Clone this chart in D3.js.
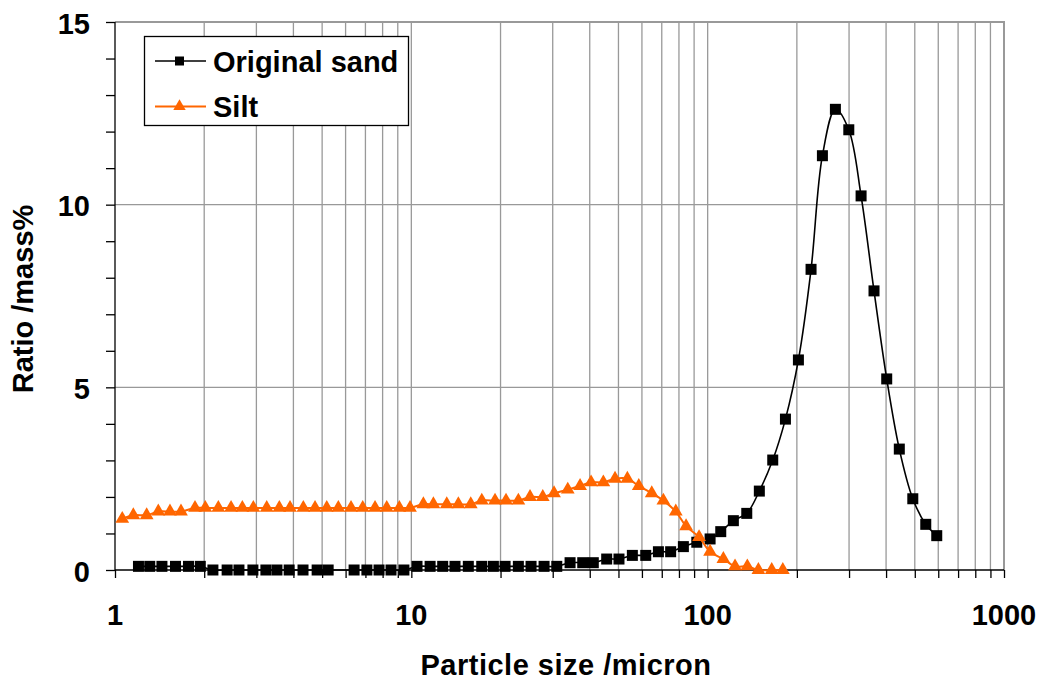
<!DOCTYPE html>
<html>
<head>
<meta charset="utf-8">
<script src="https://cdn.jsdelivr.net/npm/d3@7"></script>
<style>
  html, body { margin: 0; padding: 0; background: #fff; }
  svg { display: block; font-family: "Liberation Sans", Arial, sans-serif; font-weight: bold; }
</style>
</head>
<body>
<svg id="chart" width="1044" height="684"></svg>
<script>
// ---- Data ----
const sandSize = [1.20,1.31,1.44,1.60,1.77,1.94,
  2.14,2.39,2.62,2.92,3.23,3.52,3.87,4.31,4.81,5.24,
  6.41,7.08,7.78,8.54,9.44,
  10.45,11.57,12.76,14.04,15.57,17.28,18.92,20.72,22.97,25.35,28.05,30.96,
  34.33,37.88,41.12,45.63,50.2,55.7,61.8,68.2,75.0,
  82.8,91.9,101.9,110.7,122.1,135.5,149.4,165.8,183,202.4,223.3,243.9,269.8,299.4,329.4,364.2,402,443.3,492.3,544.5,593];
const sandRatio = [0.1,0.1,0.1,0.1,0.1,0.1,
  0,0,0,0,0,0,0,0,0,0,
  0,0,0,0,0,
  0.1,0.1,0.1,0.1,0.1,0.1,0.1,0.1,0.1,0.1,0.1,0.1,
  0.2,0.2,0.2,0.3,0.3,0.4,0.4,0.5,0.5,
  0.64,0.76,0.85,1.05,1.35,1.55,2.16,3.01,4.13,5.75,8.23,11.34,12.61,12.05,10.24,7.64,5.23,3.31,1.95,1.25,0.94];

const siltSize = [1.058,1.153,1.279,1.400,1.533,1.670,
  1.862,2.017,2.232,2.464,2.690,2.930,3.251,3.585,3.896,4.320,4.732,5.183,5.671,6.259,6.855,7.543,8.26,9.11,9.90,
  10.98,11.87,13.17,14.41,15.87,
  17.29,19.16,20.87,22.97,
  25.15,27.77,30.31,33.72,37.10,40.42,44.46,48.69,53.58,58.55,64.76,70.88,78.05,84.56,93.54,101.9,112.97,123.7,136.1,148.3,164.5,179.3];
const siltRatio = [1.4,1.5,1.5,1.6,1.6,1.6,
  1.7,1.7,1.7,1.7,1.7,1.7,1.7,1.7,1.7,1.7,1.7,1.7,1.7,1.7,1.7,1.7,1.7,1.7,1.7,
  1.8,1.8,1.8,1.8,1.8,
  1.9,1.9,1.9,1.9,
  2.0,2.0,2.1,2.2,2.3,2.4,2.4,2.5,2.5,2.3,2.1,1.9,1.6,1.2,0.9,0.5,0.3,0.1,0.1,0,0,0];

const xTickLabels = [1, 10, 100, 1000];
const yTickLabels = [0, 5, 10, 15];
const seriesNames = ["Original sand", "Silt"];

// ---- Layout ----
const svg = d3.select("#chart");
const L = 115, R = 1004, T = 22, B = 570;
const x = d3.scaleLog().domain([1, 1000]).range([L, R]);
const y = d3.scaleLinear().domain([0, 15]).range([B, T]);
const gridColor = "#999999";
const orange = "#FF6600";
const FS = 29;

// minor log positions
const xMinor = [];
for (let d = 1; d < 1000; d *= 10) for (let k = 1; k <= 10; k++) xMinor.push(d * k);
const xMinorU = Array.from(new Set(xMinor.map(v => +v.toPrecision(6))));

// vertical gridlines
svg.append("g").selectAll("line").data(xMinorU.filter(v => v > 1 && v < 1000)).join("line")
  .attr("x1", d => x(d)).attr("x2", d => x(d)).attr("y1", T).attr("y2", B)
  .attr("stroke", gridColor).attr("stroke-width", 1.3);
// horizontal gridlines
svg.append("g").selectAll("line").data([5, 10]).join("line")
  .attr("x1", L).attr("x2", R).attr("y1", d => y(d)).attr("y2", d => y(d))
  .attr("stroke", gridColor).attr("stroke-width", 1.3);
// plot border (top/right)
svg.append("path").attr("d", `M${L},${T}H${R}V${B}`).attr("fill", "none")
  .attr("stroke", gridColor).attr("stroke-width", 2);

// axes
const xAxis = d3.axisBottom(x).tickValues(xMinorU).tickSize(8).tickFormat("");
svg.append("g").attr("transform", `translate(0,${B})`).call(xAxis)
  .call(g => g.select(".domain").attr("stroke", "#000").attr("stroke-width", 1.3).attr("d", `M${L},0H${R}`))
  .call(g => g.selectAll(".tick line").attr("stroke", "#000").attr("stroke-width", 1.3));
svg.append("g").selectAll("text").data(xTickLabels).join("text")
  .attr("x", d => x(d)).attr("y", 625).attr("text-anchor", "middle")
  .attr("font-size", FS).attr("fill", "#000").text(d => d);

const yAxis = d3.axisLeft(y).tickValues(d3.range(0, 16)).tickSize(9).tickFormat("");
svg.append("g").attr("transform", `translate(${L},0)`).call(yAxis)
  .call(g => g.select(".domain").attr("stroke", "#000").attr("stroke-width", 1.3).attr("d", `M0,${T}V${B}`))
  .call(g => g.selectAll(".tick line").attr("stroke", "#000").attr("stroke-width", 1.3));
svg.append("g").selectAll("text").data(yTickLabels).join("text")
  .attr("x", 90).attr("y", d => y(d) + 11.5).attr("text-anchor", "end")
  .attr("font-size", FS).attr("fill", "#000").text(d => d);

// axis titles
svg.append("text").attr("x", 566).attr("y", 675).attr("text-anchor", "middle")
  .attr("font-size", FS).attr("letter-spacing", 0.5).attr("fill", "#000").text("Particle size /micron");
svg.append("text").attr("transform", `translate(33,299) rotate(-90)`).attr("text-anchor", "middle")
  .attr("font-size", FS).attr("fill", "#000").text("Ratio /mass%");

// series
svg.append("clipPath").attr("id", "clip").append("rect")
  .attr("x", L - 8).attr("y", T - 8).attr("width", R - L + 16).attr("height", B - T + 16);
const plot = svg.append("g").attr("clip-path", "url(#clip)");
const line = d3.line().x(d => x(d[0])).y(d => y(d[1])).curve(d3.curveCatmullRom.alpha(0.5));

const sand = sandSize.map((s, i) => [s, sandRatio[i]]);
const silt = siltSize.map((s, i) => [s, siltRatio[i]]);

plot.append("path").datum(sand).attr("d", line).attr("fill", "none")
  .attr("stroke", "#000").attr("stroke-width", 1.6);
plot.append("g").selectAll("rect").data(sand).join("rect")
  .attr("x", d => x(d[0]) - 5.5).attr("y", d => y(d[1]) - 5.5).attr("width", 11).attr("height", 11)
  .attr("fill", "#000");

plot.append("path").datum(silt).attr("d", line).attr("fill", "none")
  .attr("stroke", orange).attr("stroke-width", 2);
const tri = d3.symbol().type(d3.symbolTriangle).size(82);
plot.append("g").selectAll("path").data(silt).join("path")
  .attr("transform", d => `translate(${x(d[0])},${y(d[1])})`).attr("d", tri)
  .attr("fill", orange);

// legend
const lg = svg.append("g");
lg.append("rect").attr("x", 144.5).attr("y", 36.5).attr("width", 264).attr("height", 89)
  .attr("fill", "#fff").attr("stroke", "#000").attr("stroke-width", 1.3);
const rows = [61, 106.5];
lg.append("line").attr("x1", 155).attr("x2", 206).attr("y1", rows[0]).attr("y2", rows[0])
  .attr("stroke", "#000").attr("stroke-width", 1.6);
lg.append("rect").attr("x", 175).attr("y", rows[0] - 4.5).attr("width", 9).attr("height", 9).attr("fill", "#000");
lg.append("line").attr("x1", 155).attr("x2", 206).attr("y1", rows[1]).attr("y2", rows[1])
  .attr("stroke", orange).attr("stroke-width", 2);
lg.append("path").attr("transform", `translate(179.5,${rows[1]})`).attr("d", d3.symbol().type(d3.symbolTriangle).size(66)).attr("fill", orange);
lg.selectAll("text.lab").data(seriesNames).join("text").attr("class", "lab")
  .attr("x", 213).attr("y", (d, i) => rows[i] + 10.5).attr("font-size", FS).attr("fill", "#000").text(d => d);
</script>
</body>
</html>
